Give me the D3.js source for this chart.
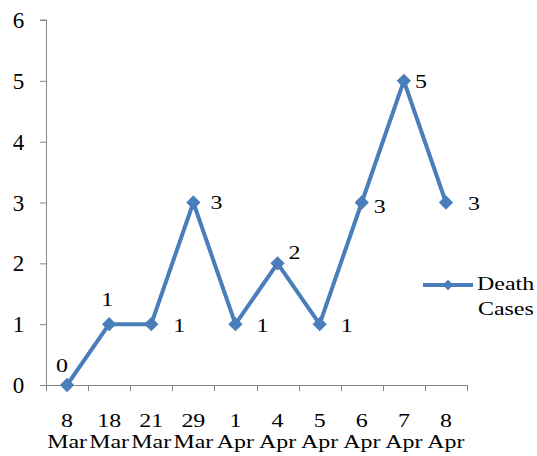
<!DOCTYPE html>
<html>
<head>
<meta charset="utf-8">
<script src="https://cdn.jsdelivr.net/npm/d3@7"></script>
<style>
  body { margin: 0; background: #fff; }
</style>
</head>
<body>
<svg id="chart" width="537" height="456"></svg>
<script>
const days = ["8", "18", "21", "29", "1", "4", "5", "6", "7", "8"];
const months = ["Mar", "Mar", "Mar", "Mar", "Apr", "Apr", "Apr", "Apr", "Apr", "Apr"];
const deaths = [0, 1, 1, 3, 1, 2, 1, 3, 5, 3];
const yTicks = [0, 1, 2, 3, 4, 5, 6];
// where each data label sits relative to its point (Excel put them by hand-ish)
const labelDx = [-5, -2, 28, 23, 27, 17, 27, 18, 17, 28];
const labelDy = [-13, -18, 8, 6, 8, -4, 8, 10, 7, 7];

const BLUE = "#4a7ebb";
const AXIS = "#868686";
const FONT = "\"Liberation Serif\"";
const FS = 18;
const SX = 1.33; // text in the picture is stretched horizontally

const svg = d3.select("#chart");
const margin = { left: 46, right: 70, top: 20, bottom: 71 };
const height = 456;

const x = d3.scaleBand()
  .domain(d3.range(days.length))
  .range([margin.left, 467]);

const y = d3.scaleLinear()
  .domain([0, 6])
  .range([height - margin.bottom, margin.top]);

function label(g, tx, ty, str, anchor, fs, sx) {
  return g.append("text")
    .attr("transform", `translate(${tx},${ty}) scale(${sx || SX},1)`)
    .attr("text-anchor", anchor || "middle")
    .style("font-family", FONT)
    .style("font-size", (fs || FS) + "px")
    .attr("fill", "#000")
    .text(str);
}

// y axis
const yAxis = svg.append("g")
  .attr("transform", `translate(${margin.left},0)`)
  .call(d3.axisLeft(y).tickValues(yTicks).tickSize(6).tickFormat(""));
yAxis.select(".domain").attr("stroke", AXIS).attr("d", `M-6,${y(6)}H0.5V${y(0)}`);
yAxis.selectAll(".tick line").attr("stroke", AXIS);
yTicks.forEach((t) => label(svg, 18.5, y(t) + 8, t, "middle", 23, 1));

// x axis
const xAxis = svg.append("g")
  .attr("transform", `translate(0,${y(0)})`);
xAxis.append("line")
  .attr("x1", margin.left).attr("x2", 467)
  .attr("y1", 0.5).attr("y2", 0.5)
  .attr("stroke", AXIS);
xAxis.selectAll("line.tk")
  .data(d3.range(days.length + 1))
  .join("line")
  .attr("class", "tk")
  .attr("x1", (i) => Math.round(margin.left + i * x.step()) + 0.5)
  .attr("x2", (i) => Math.round(margin.left + i * x.step()) + 0.5)
  .attr("y1", 0).attr("y2", 6)
  .attr("stroke", AXIS);

const cx = (i) => x(i) + x.bandwidth() / 2;
const xl = svg.append("g");
days.forEach((d, i) => {
  label(xl, cx(i), 427, d);
  label(xl, cx(i), 448, months[i]);
});

// line
const line = d3.line()
  .x((d, i) => cx(i))
  .y((d) => y(d));

svg.append("path")
  .datum(deaths)
  .attr("d", line)
  .attr("fill", "none")
  .attr("stroke", BLUE)
  .attr("stroke-width", 4)
  .attr("stroke-linejoin", "round");

const diamond = d3.symbol().type(d3.symbolDiamond2).size(130);
svg.append("g")
  .selectAll("path")
  .data(deaths)
  .join("path")
  .attr("transform", (d, i) => `translate(${cx(i)},${y(d)})`)
  .attr("d", diamond)
  .attr("fill", BLUE);

// data labels
const dl = svg.append("g");
deaths.forEach((d, i) => {
  label(dl, cx(i) + labelDx[i], y(d) + labelDy[i], d);
});

// legend
const lg = svg.append("g").attr("transform", "translate(423,285)");
lg.append("line")
  .attr("x1", 0).attr("x2", 50)
  .attr("stroke", BLUE).attr("stroke-width", 4);
lg.append("path")
  .attr("transform", "translate(25,0)")
  .attr("d", d3.symbol().type(d3.symbolDiamond2).size(70))
  .attr("fill", BLUE);
label(lg, 54, 5, "Death", "start");
label(lg, 55, 30, "Cases", "start");
</script>
</body>
</html>
